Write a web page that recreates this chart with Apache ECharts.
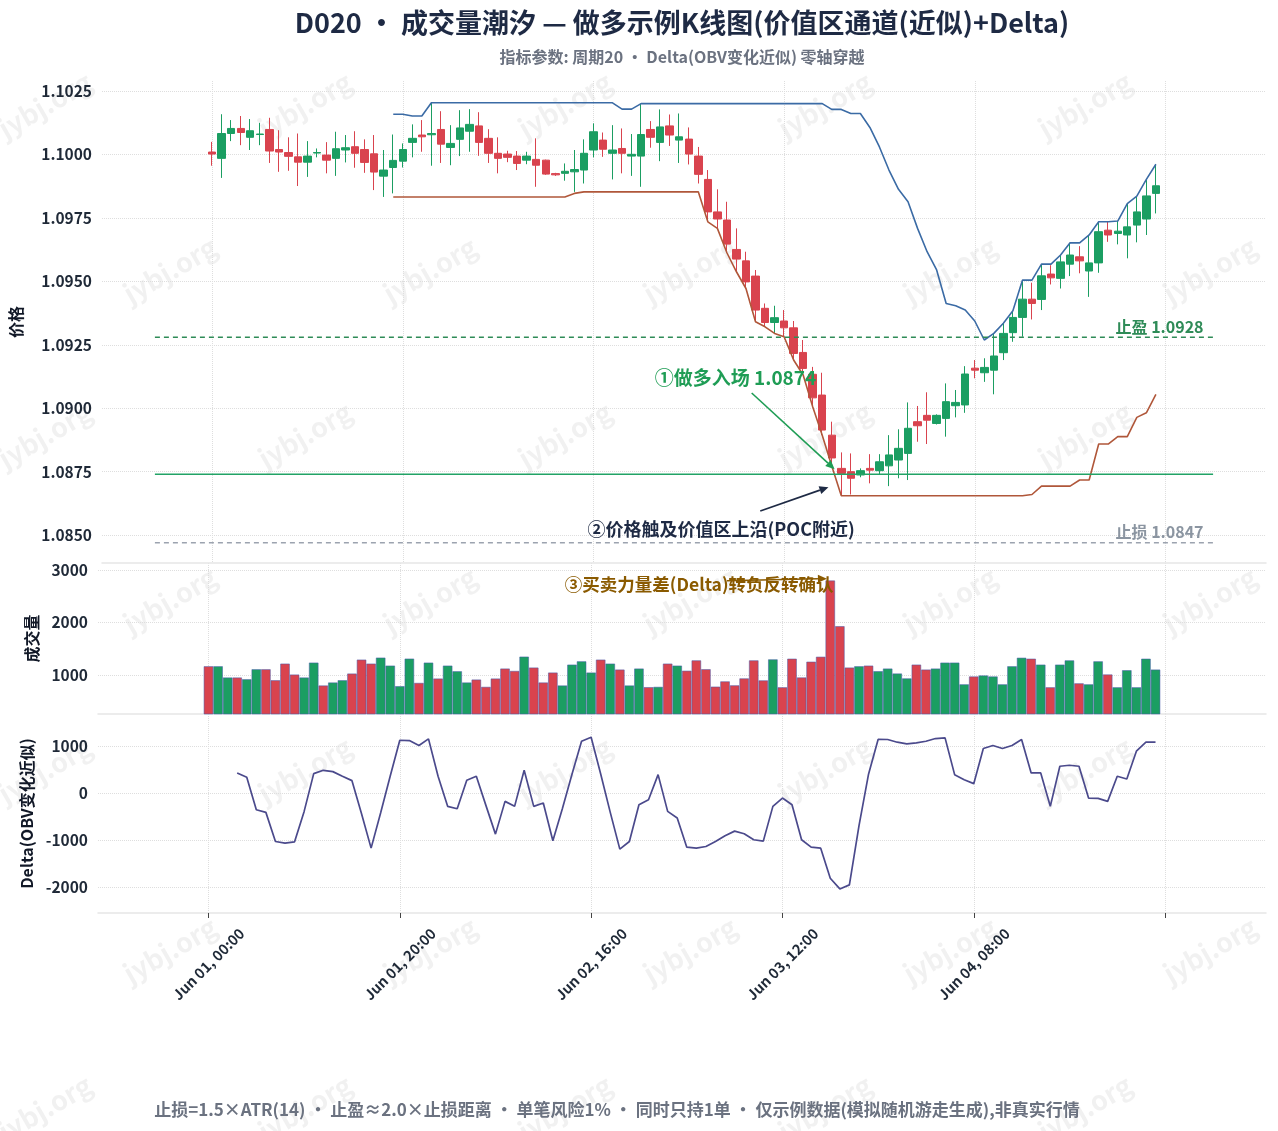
<!DOCTYPE html>
<html>
<head>
<meta charset="utf-8">
<title>D020 成交量潮汐</title>
<script src="https://cdn.jsdelivr.net/npm/echarts@6/dist/echarts.min.js"></script>
<style>
html,body{margin:0;padding:0;background:#ffffff;}
#chart{width:1278px;height:1131px;}
</style>
</head>
<body>
<div id="chart"></div>
<script>
// ---------------- DATA ----------------
const hours = Array.from({length: 100}, (_, i) => i); // hourly bars from Jun 01 00:00
const xTickValues = [0, 20, 40, 60, 80, 100];
const xLabelValues = [0, 20, 40, 60, 80];
const xTickLabels = ['Jun 01, 00:00', 'Jun 01, 20:00', 'Jun 02, 16:00', 'Jun 03, 12:00', 'Jun 04, 08:00'];
const priceTicks = [1.085, 1.0875, 1.09, 1.0925, 1.095, 1.0975, 1.1, 1.1025];
const volTicks = [1000, 2000, 3000];
const deltaTicks = [-2000, -1000, 0, 1000];

const open = [
1.10010,1.09985,1.10083,1.10103,1.10068,1.10079,1.10099,1.10020,1.10008,1.09991,
1.09970,1.10006,1.09998,1.09985,1.10018,1.10031,1.10020,1.10003,1.09915,1.09949,
1.09974,1.10048,1.10077,1.10078,1.10099,1.10028,1.10060,1.10092,1.10113,1.10064,
1.10005,1.10002,1.09994,1.09978,1.09981,1.09978,1.09925,1.09926,1.09932,1.09939,
1.10018,1.10057,1.10005,1.10024,1.09994,1.09994,1.10099,1.10048,1.10113,1.10057,
1.10061,1.09994,1.09902,1.09774,1.09742,1.09626,1.09581,1.09521,1.09394,1.09338,
1.09344,1.09317,1.09220,1.09134,1.09052,1.08894,1.08763,1.08750,1.08737,1.08763,
1.08754,1.08773,1.08796,1.08822,1.08947,1.08972,1.08940,1.08960,1.09010,1.09013,
1.09158,1.09140,1.09150,1.09219,1.09298,1.09358,1.09430,1.09429,1.09529,1.09512,
1.09568,1.09597,1.09541,1.09573,1.09702,1.09689,1.09683,1.09722,1.09746,1.09847];
const close = [
1.10002,1.10083,1.10103,1.10087,1.10094,1.10081,1.10014,1.10010,1.09993,1.09970,
1.09994,1.10008,1.09978,1.10023,1.10027,1.10005,1.09969,1.09931,1.09939,1.09977,
1.10020,1.10064,1.10070,1.10083,1.10041,1.10044,1.10105,1.10119,1.10048,1.10005,
1.09985,1.09989,1.09965,1.09994,1.09958,1.09923,1.09920,1.09934,1.09941,1.10005,
1.10090,1.10021,1.10018,1.10005,1.10001,1.10079,1.10068,1.10109,1.10077,1.10070,
1.10002,1.09922,1.09774,1.09746,1.09647,1.09588,1.09498,1.09387,1.09338,1.09357,
1.09317,1.09216,1.09157,1.09041,1.08914,1.08804,1.08743,1.08724,1.08754,1.08756,
1.08789,1.08816,1.08842,1.08921,1.08931,1.08953,1.08972,1.09026,1.09023,1.09135,
1.09150,1.09161,1.09206,1.09295,1.09358,1.09430,1.09413,1.09522,1.09514,1.09577,
1.09604,1.09581,1.09573,1.09696,1.09683,1.09698,1.09715,1.09774,1.09837,1.09877];
const high = [
1.10050,1.10159,1.10136,1.10152,1.10140,1.10125,1.10145,1.10096,1.10068,1.10083,
1.10053,1.10024,1.10049,1.10090,1.10077,1.10092,1.10060,1.10077,1.10018,1.10079,
1.10044,1.10119,1.10136,1.10204,1.10171,1.10116,1.10175,1.10179,1.10167,1.10100,
1.10068,1.10015,1.10014,1.10011,1.10064,1.09980,1.09928,1.09965,1.10018,1.10060,
1.10123,1.10087,1.10116,1.10103,1.10081,1.10201,1.10132,1.10178,1.10158,1.10162,
1.10107,1.10030,1.09939,1.09863,1.09814,1.09709,1.09617,1.09545,1.09413,1.09404,
1.09387,1.09344,1.09269,1.09163,1.09140,1.08947,1.08826,1.08822,1.08763,1.08819,
1.08819,1.08894,1.08917,1.09023,1.09009,1.09063,1.08976,1.09098,1.09072,1.09166,
1.09190,1.09197,1.09295,1.09335,1.09384,1.09505,1.09495,1.09568,1.09564,1.09604,
1.09652,1.09639,1.09683,1.09735,1.09735,1.09738,1.09807,1.09836,1.09902,1.09962];
const low = [
1.09956,1.09908,1.10053,1.10037,1.10018,1.10037,1.09967,1.09932,1.09936,1.09876,
1.09912,1.09989,1.09926,1.09916,1.09969,1.09948,1.09928,1.09860,1.09833,1.09847,
1.09949,1.09989,1.10011,1.09956,1.09967,1.09958,1.09994,1.10011,1.09995,1.09967,
1.09926,1.09970,1.09939,1.09962,1.09873,1.09920,1.09916,1.09897,1.09853,1.09886,
1.09989,1.09991,1.09902,1.09926,1.09916,1.09873,1.10027,1.09974,1.10034,1.09967,
1.09961,1.09886,1.09735,1.09709,1.09613,1.09538,1.09472,1.09341,1.09321,1.09295,
1.09282,1.09190,1.09131,1.09006,1.08894,1.08772,1.08655,1.08660,1.08728,1.08704,
1.08737,1.08693,1.08724,1.08717,1.08868,1.08859,1.08936,1.08888,1.08964,1.08982,
1.09118,1.09104,1.09055,1.09190,1.09262,1.09282,1.09350,1.09387,1.09488,1.09472,
1.09521,1.09532,1.09439,1.09534,1.09656,1.09646,1.09591,1.09654,1.09683,1.09768];
const volume = [
1169,1169,955,955,922,1112,1112,903,1219,1011,
955,1238,803,860,903,1030,1295,1219,1333,1181,
790,1314,852,1238,935,1181,1074,860,916,777,
935,1125,1080,1352,1144,860,1049,803,1200,1263,
1049,1295,1219,1106,803,1125,771,777,1219,1181,
1084,1281,1113,781,881,806,938,1281,900,1300,
769,1313,956,1256,1350,2800,1931,1144,1169,1181,
1075,1125,1031,938,1200,1106,1125,1238,1238,825,
975,994,975,825,1169,1331,1313,1200,769,1200,
1281,844,825,1263,1013,769,1094,769,1313,1106];
const upperBand = [
null,null,null,null,null,null,null,null,null,null,
null,null,null,null,null,null,null,null,null,1.10159,
1.10159,1.10152,1.10152,1.10204,1.10204,1.10204,1.10204,1.10204,1.10204,1.10204,
1.10204,1.10204,1.10204,1.10204,1.10204,1.10204,1.10204,1.10204,1.10204,1.10204,
1.10204,1.10204,1.10204,1.10179,1.10179,1.10201,1.10201,1.10201,1.10201,1.10201,
1.10201,1.10201,1.10201,1.10201,1.10201,1.10201,1.10201,1.10201,1.10201,1.10201,
1.10201,1.10201,1.10201,1.10201,1.10201,1.10178,1.10178,1.10162,1.10162,1.10107,
1.10030,1.09939,1.09863,1.09814,1.09709,1.09617,1.09545,1.09413,1.09404,1.09387,
1.09344,1.09269,1.09295,1.09335,1.09384,1.09505,1.09505,1.09568,1.09568,1.09604,
1.09652,1.09652,1.09683,1.09735,1.09735,1.09738,1.09807,1.09836,1.09902,1.09962];
const lowerBand = [
null,null,null,null,null,null,null,null,null,null,
null,null,null,null,null,null,null,null,null,1.09833,
1.09833,1.09833,1.09833,1.09833,1.09833,1.09833,1.09833,1.09833,1.09833,1.09833,
1.09833,1.09833,1.09833,1.09833,1.09833,1.09833,1.09833,1.09833,1.09847,1.09853,
1.09853,1.09853,1.09853,1.09853,1.09853,1.09853,1.09853,1.09853,1.09853,1.09853,
1.09853,1.09853,1.09735,1.09709,1.09613,1.09538,1.09472,1.09341,1.09321,1.09295,
1.09282,1.09190,1.09131,1.09006,1.08894,1.08772,1.08655,1.08655,1.08655,1.08655,
1.08655,1.08655,1.08655,1.08655,1.08655,1.08655,1.08655,1.08655,1.08655,1.08655,
1.08655,1.08655,1.08655,1.08655,1.08655,1.08655,1.08660,1.08693,1.08693,1.08693,
1.08693,1.08717,1.08717,1.08859,1.08859,1.08888,1.08888,1.08964,1.08982,1.09055];
const delta = [
null,null,null,427,334,-356,-412,-1031,-1067,-1038,
-391,412,483,455,356,263,-440,-1173,-420,360,
1123,1116,1010,1152,356,-284,-334,270,356,-263,
-875,-178,-284,483,-284,-213,-1017,-330,400,1102,
1187,405,-412,-1194,-1031,-249,-142,391,-391,-533,
-1152,-1173,-1138,-1031,-910,-811,-867,-995,-1024,-284,
-107,-249,-995,-1152,-1173,-1813,-2041,-1955,-700,400,
1140,1138,1081,1045,1067,1102,1159,1173,391,284,
199,946,1010,946,1010,1138,427,427,-284,569,
590,569,-107,-114,-178,356,299,889,1081,1081];

const entryPrice = 1.0874;
const takeProfit = 1.0928;
const stopLoss = 1.0847;
const levelSpan = [-6, 105];

// ---------------- STYLE ----------------
const FONT = "'Noto Sans CJK SC','Noto Sans',sans-serif";
const UP = '#1b9e62';
const DOWN = '#d9434e';
const GRID_COLOR = '#dedede';
const X_MIN = -11.55, X_MAX = 110.55;

const chart = echarts.init(document.getElementById('chart'), null, {renderer: 'canvas'});

const candleData = hours.map(i => [i, open[i], close[i], low[i], high[i]]);
const volData = hours.map(i => ({
  value: [i, volume[i]],
  itemStyle: {color: close[i] >= open[i] ? UP : DOWN}
}));
const upperData = hours.filter(i => upperBand[i] != null).map(i => [i, upperBand[i]]);
const lowerData = hours.filter(i => lowerBand[i] != null).map(i => [i, lowerBand[i]]);
const deltaData = hours.filter(i => delta[i] != null).map(i => [i, delta[i]]);

function xAxisCfg(gi, showLabels) {
  return {
    type: 'value', gridIndex: gi, min: X_MIN, max: X_MAX,
    axisLine: {show: true, onZero: false, lineStyle: {color: '#e6e6e6', width: 1.5}},
    axisTick: {show: showLabels, customValues: xTickValues, length: 5, lineStyle: {color: '#444', width: 1}},
    axisLabel: showLabels ? {
      show: true, customValues: xLabelValues, rotate: 45, align: 'center', verticalAlign: 'middle', margin: 51,
      fontFamily: FONT, fontSize: 14.5, fontWeight: 'bold', color: '#1f2937',
      formatter: v => { const k = xLabelValues.indexOf(Math.round(v)); return k >= 0 ? xTickLabels[k] : ''; }
    } : {show: false},
    splitLine: {show: true, lineStyle: {color: GRID_COLOR, type: 'dotted', width: 1}}
  };
}
function yAxisCfg(gi, min, max, ticks, fmt, name, gap) {
  return {
    type: 'value', gridIndex: gi, min: min, max: max, scale: true,
    name: name, nameLocation: 'middle', nameGap: gap, nameRotate: 90,
    nameTextStyle: {fontFamily: FONT, fontSize: 16, fontWeight: 'bold', color: '#111827'},
    axisLine: {show: false}, axisTick: {show: false, customValues: ticks},
    axisLabel: {customValues: ticks, formatter: fmt, fontFamily: FONT, fontSize: 15.5, fontWeight: 'bold', color: '#1f2937', margin: 10},
    splitLine: {show: true, lineStyle: {color: GRID_COLOR, type: 'dotted', width: 1}}
  };
}

const option = {
  backgroundColor: '#ffffff',
  animation: false,
  grid: [
    {left: 98, right: 12, top: 81, height: 482},
    {left: 98, right: 12, top: 563, height: 151},
    {left: 98, right: 12, top: 714, height: 199}
  ],
  xAxis: [xAxisCfg(0, false), xAxisCfg(1, false), xAxisCfg(2, true)],
  yAxis: [
    yAxisCfg(0, 1.0839, 1.1029, priceTicks, v => v.toFixed(4), '价格', 78),
    yAxisCfg(1, 260, 3133, volTicks, v => String(Math.round(v)), '成交量', 58),
    yAxisCfg(2, -2553, 1681, deltaTicks, v => String(Math.round(v)), 'Delta(OBV变化近似)', 61)
  ],
  series: [
    {
      type: 'candlestick', xAxisIndex: 0, yAxisIndex: 0, data: candleData,
      encode: {x: 0, y: [1, 2, 3, 4]}, barWidth: '68%',
      itemStyle: {color: UP, color0: DOWN, borderColor: UP, borderColor0: DOWN, borderWidth: 1}
    },
    {type: 'line', xAxisIndex: 0, yAxisIndex: 0, data: upperData, symbol: 'none',
      lineStyle: {color: '#3b6ba5', width: 1.6}, z: 3},
    {type: 'line', xAxisIndex: 0, yAxisIndex: 0, data: lowerData, symbol: 'none',
      lineStyle: {color: '#b0573a', width: 1.6}, z: 3},
    {type: 'line', xAxisIndex: 0, yAxisIndex: 0, data: levelSpan.map(x => [x, entryPrice]), symbol: 'none',
      lineStyle: {color: '#22a366', width: 1.6}, z: 4},
    {type: 'line', xAxisIndex: 0, yAxisIndex: 0, data: levelSpan.map(x => [x, takeProfit]), symbol: 'none',
      lineStyle: {color: '#2e8b57', width: 1.4, type: [5, 4]}, z: 4},
    {type: 'line', xAxisIndex: 0, yAxisIndex: 0, data: levelSpan.map(x => [x, stopLoss]), symbol: 'none',
      lineStyle: {color: '#9ca3af', width: 1.4, type: [5, 4]}, z: 4},
    {
      type: 'bar', xAxisIndex: 1, yAxisIndex: 1, data: volData, barWidth: '100%',
      itemStyle: {borderColor: 'rgba(70,90,170,0.75)', borderWidth: 0.7}
    },
    {type: 'line', xAxisIndex: 2, yAxisIndex: 2, data: deltaData, symbol: 'none',
      lineStyle: {color: '#4b4a8c', width: 1.7}}
  ]
};
chart.setOption(option);

// ---------------- ANNOTATIONS (data coords -> pixels) ----------------
function px(g, x, y) { return chart.convertToPixel({gridIndex: g}, [x, y]); }
function arrow(p1, p2, color, w) {
  const dx = p2[0] - p1[0], dy = p2[1] - p1[1], len = Math.hypot(dx, dy);
  const ux = dx / len, uy = dy / len, hl = 9, hw = 4;
  const bx = p2[0] - ux * hl, by = p2[1] - uy * hl;
  return [
    {type: 'line', z: 100, shape: {x1: p1[0], y1: p1[1], x2: bx, y2: by}, style: {stroke: color, lineWidth: w}},
    {type: 'polygon', z: 100, shape: {points: [[p2[0], p2[1]], [bx - uy * hw, by + ux * hw], [bx + uy * hw, by - ux * hw]]}, style: {fill: color}}
  ];
}
function txt(p, s, color, size, align) {
  return {type: 'text', z: 100, x: p[0], y: p[1],
    style: {text: s, fill: color, font: 'bold ' + size + 'px ' + FONT, textAlign: align || 'center', textVerticalAlign: 'middle'}};
}

const g = [];
// watermark
const wmRowsY = [105, 270, 435, 600, 770, 950, 1108];
const wmColsA = [45, 305, 565, 825, 1085];
const wmColsB = [170, 430, 690, 950, 1210];
wmRowsY.forEach((yy, r) => {
  (r % 2 === 0 ? wmColsA : wmColsB).forEach(xx => {
    g.push({type: 'text', z: -5, x: xx, y: yy, rotation: Math.PI / 6,
      style: {text: 'jybj.org', fill: 'rgba(150,150,150,0.13)', font: 'bold 27px ' + FONT, textAlign: 'center', textVerticalAlign: 'middle'}});
  });
});
// titles
g.push(txt([682, 23], 'D020 · 成交量潮汐 — 做多示例K线图(价值区通道(近似)+Delta)', '#1e2a44', 27));
g.push(txt([682, 57], '指标参数: 周期20 · Delta(OBV变化近似) 零轴穿越', '#6b7280', 16));
g.push(txt([617, 1110], '止损=1.5×ATR(14) · 止盈≈2.0×止损距离 · 单笔风险1% · 同时只持1单 · 仅示例数据(模拟随机游走生成),非真实行情', '#6b7280', 17));

// ① entry
g.push(txt(px(0, 54.9, 1.09119), '①做多入场 1.0874', '#1f9d55', 19));
g.push(...arrow(px(0, 56.6, 1.09060), px(0, 65.3, 1.08760), '#1f9d55', 1.6));
// ② value-area touch
g.push(txt(px(0, 53.4, 1.08524), '②价格触及价值区上沿(POC附近)', '#1e2a44', 18));
g.push(...arrow(px(0, 57.5, 1.08595), px(0, 64.65, 1.08689), '#1e2a44', 1.6));
// ③ delta
g.push(txt(px(1, 51.3, 2722), '③买卖力量差(Delta)转负反转确认', '#8a5a00', 17.5));
g.push(...arrow(px(1, 54.2, 2797), px(1, 64.65, 2835), '#8a5a00', 1.5));
// level labels
g.push(txt(px(0, 104.0, 1.09320), '止盈 1.0928', '#2e8b57', 16, 'right'));
g.push(txt(px(0, 104.0, 1.08512), '止损 1.0847', '#8b95a1', 16, 'right'));

chart.setOption({graphic: {elements: g}});
</script>
</body>
</html>
